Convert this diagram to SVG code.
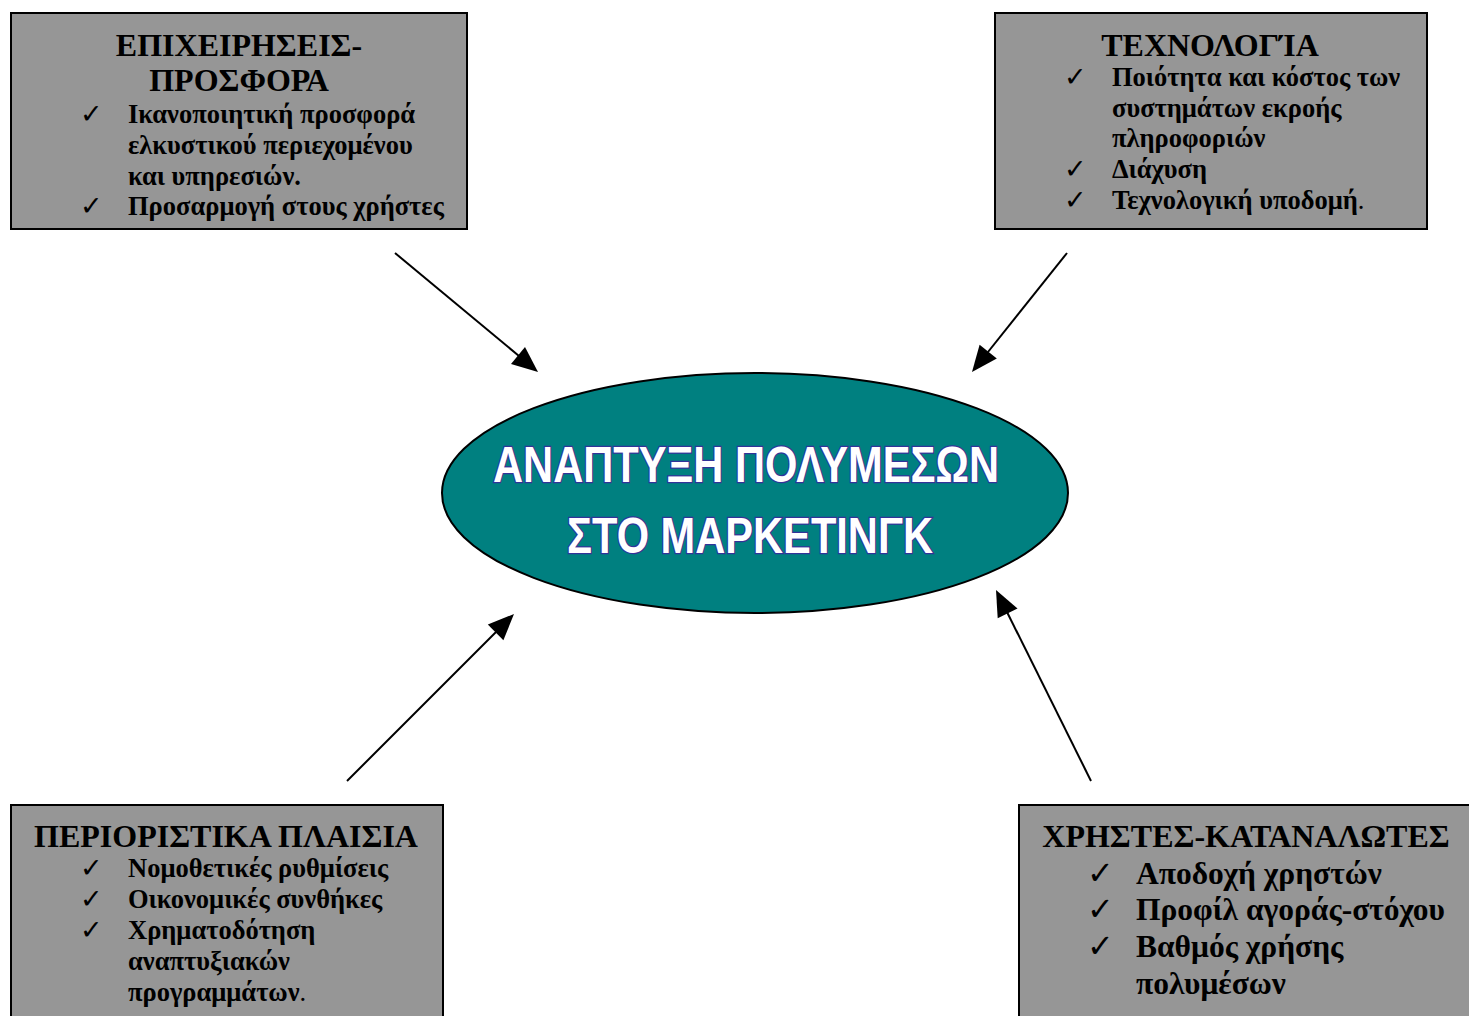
<svg xmlns="http://www.w3.org/2000/svg" width="1469" height="1016" viewBox="0 0 1469 1016">
<style>
.box{fill:#969696;stroke:#000;stroke-width:2}
.t{font-family:"Liberation Serif","Times New Roman",serif;font-weight:bold;fill:#000}
.h{font-size:32px;text-anchor:middle}
.b{font-size:26.5px}
.b2{font-size:31.5px}
.ck{font-family:"DejaVu Sans",sans-serif;font-size:27px;fill:#000}
.ck2{font-family:"DejaVu Sans",sans-serif;font-size:32px;fill:#000}
.c{stroke:#000;stroke-width:2;fill:none}
.ah{fill:#000}
.et{font-family:"Liberation Sans",Arial,sans-serif;font-weight:bold;font-size:50px;fill:#fff;stroke:#333399;stroke-width:2.5;paint-order:stroke;text-anchor:middle}
</style>
<rect width="1469" height="1016" fill="#fff"/>
<g id="connectors">
<line class="c" x1="395" y1="253" x2="519" y2="356"/>
<path class="ah" d="M538,372 L511,363.9 L525,346.9 z"/>
<line class="c" x1="1067" y1="253" x2="988" y2="352"/>
<path class="ah" d="M972,372 L979.6,344.8 L996.8,358.6 z"/>
<line class="c" x1="347" y1="781" x2="496" y2="632"/>
<path class="ah" d="M514,614 L503.4,640.2 L487.8,624.6 z"/>
<line class="c" x1="1091" y1="781" x2="1007" y2="612"/>
<path class="ah" d="M996,590 L1017.5,608.4 L997.7,618.2 z"/>
</g>
<g id="node-business">
<rect class="box" x="11" y="13" width="456" height="216"/>
<text class="t h" x="239" y="56">ΕΠΙΧΕΙΡΗΣΕΙΣ-</text>
<text class="t h" x="239" y="91">ΠΡΟΣΦΟΡΑ</text>
<text class="ck" x="80" y="123">✓</text>
<text class="t b" x="128" y="123">Ικανοποιητική προσφορά</text>
<text class="t b" x="128" y="154">ελκυστικού περιεχομένου</text>
<text class="t b" x="128" y="185">και υπηρεσιών.</text>
<text class="ck" x="80" y="215">✓</text>
<text class="t b" x="128" y="215">Προσαρμογή στους χρήστες</text>
</g>
<g id="node-technology">
<rect class="box" x="995" y="13" width="432" height="216"/>
<text class="t h" x="1210" y="56">ΤΕΧΝΟΛΟΓΊΑ</text>
<text class="ck" x="1064" y="86">✓</text>
<text class="t b" x="1112" y="86">Ποιότητα και κόστος των</text>
<text class="t b" x="1112" y="117">συστημάτων εκροής</text>
<text class="t b" x="1112" y="147">πληροφοριών</text>
<text class="ck" x="1064" y="178">✓</text>
<text class="t b" x="1112" y="178">Διάχυση</text>
<text class="ck" x="1064" y="209">✓</text>
<text class="t b" x="1112" y="209">Τεχνολογική υποδομή<tspan font-weight="normal">.</tspan></text>
</g>
<g id="node-restrictions">
<rect class="box" x="11" y="805" width="432" height="220"/>
<text class="t h" x="226" y="847">ΠΕΡΙΟΡΙΣΤΙΚΑ ΠΛΑΙΣΙΑ</text>
<text class="ck" x="80" y="877">✓</text>
<text class="t b" x="128" y="877">Νομοθετικές ρυθμίσεις</text>
<text class="ck" x="80" y="908">✓</text>
<text class="t b" x="128" y="908">Οικονομικές συνθήκες</text>
<text class="ck" x="80" y="939">✓</text>
<text class="t b" x="128" y="939">Χρηματοδότηση</text>
<text class="t b" x="128" y="970">αναπτυξιακών</text>
<text class="t b" x="128" y="1001">προγραμμάτων<tspan font-weight="normal">.</tspan></text>
</g>
<g id="node-users">
<rect class="box" x="1019" y="805" width="460" height="220"/>
<text class="t h" x="1246" y="847">ΧΡΗΣΤΕΣ-ΚΑΤΑΝΑΛΩΤΕΣ</text>
<text class="ck2" x="1087" y="884">✓</text>
<text class="t b2" x="1136" y="884">Αποδοχή χρηστών</text>
<text class="ck2" x="1087" y="920">✓</text>
<text class="t b2" x="1136" y="920">Προφίλ αγοράς-στόχου</text>
<text class="ck2" x="1087" y="957">✓</text>
<text class="t b2" x="1136" y="957">Βαθμός χρήσης</text>
<text class="t b2" x="1136" y="994">πολυμέσων</text>
</g>
<g id="node-center">
<ellipse cx="755" cy="493" rx="313" ry="120" fill="#008080" stroke="#000" stroke-width="2"/>
<text class="et" x="746" y="482" textLength="506" lengthAdjust="spacingAndGlyphs">ΑΝΑΠΤΥΞΗ ΠΟΛΥΜΕΣΩΝ</text>
<text class="et" x="750" y="553" textLength="366" lengthAdjust="spacingAndGlyphs">ΣΤΟ ΜΑΡΚΕΤΙΝΓΚ</text>
</g>
</svg>
